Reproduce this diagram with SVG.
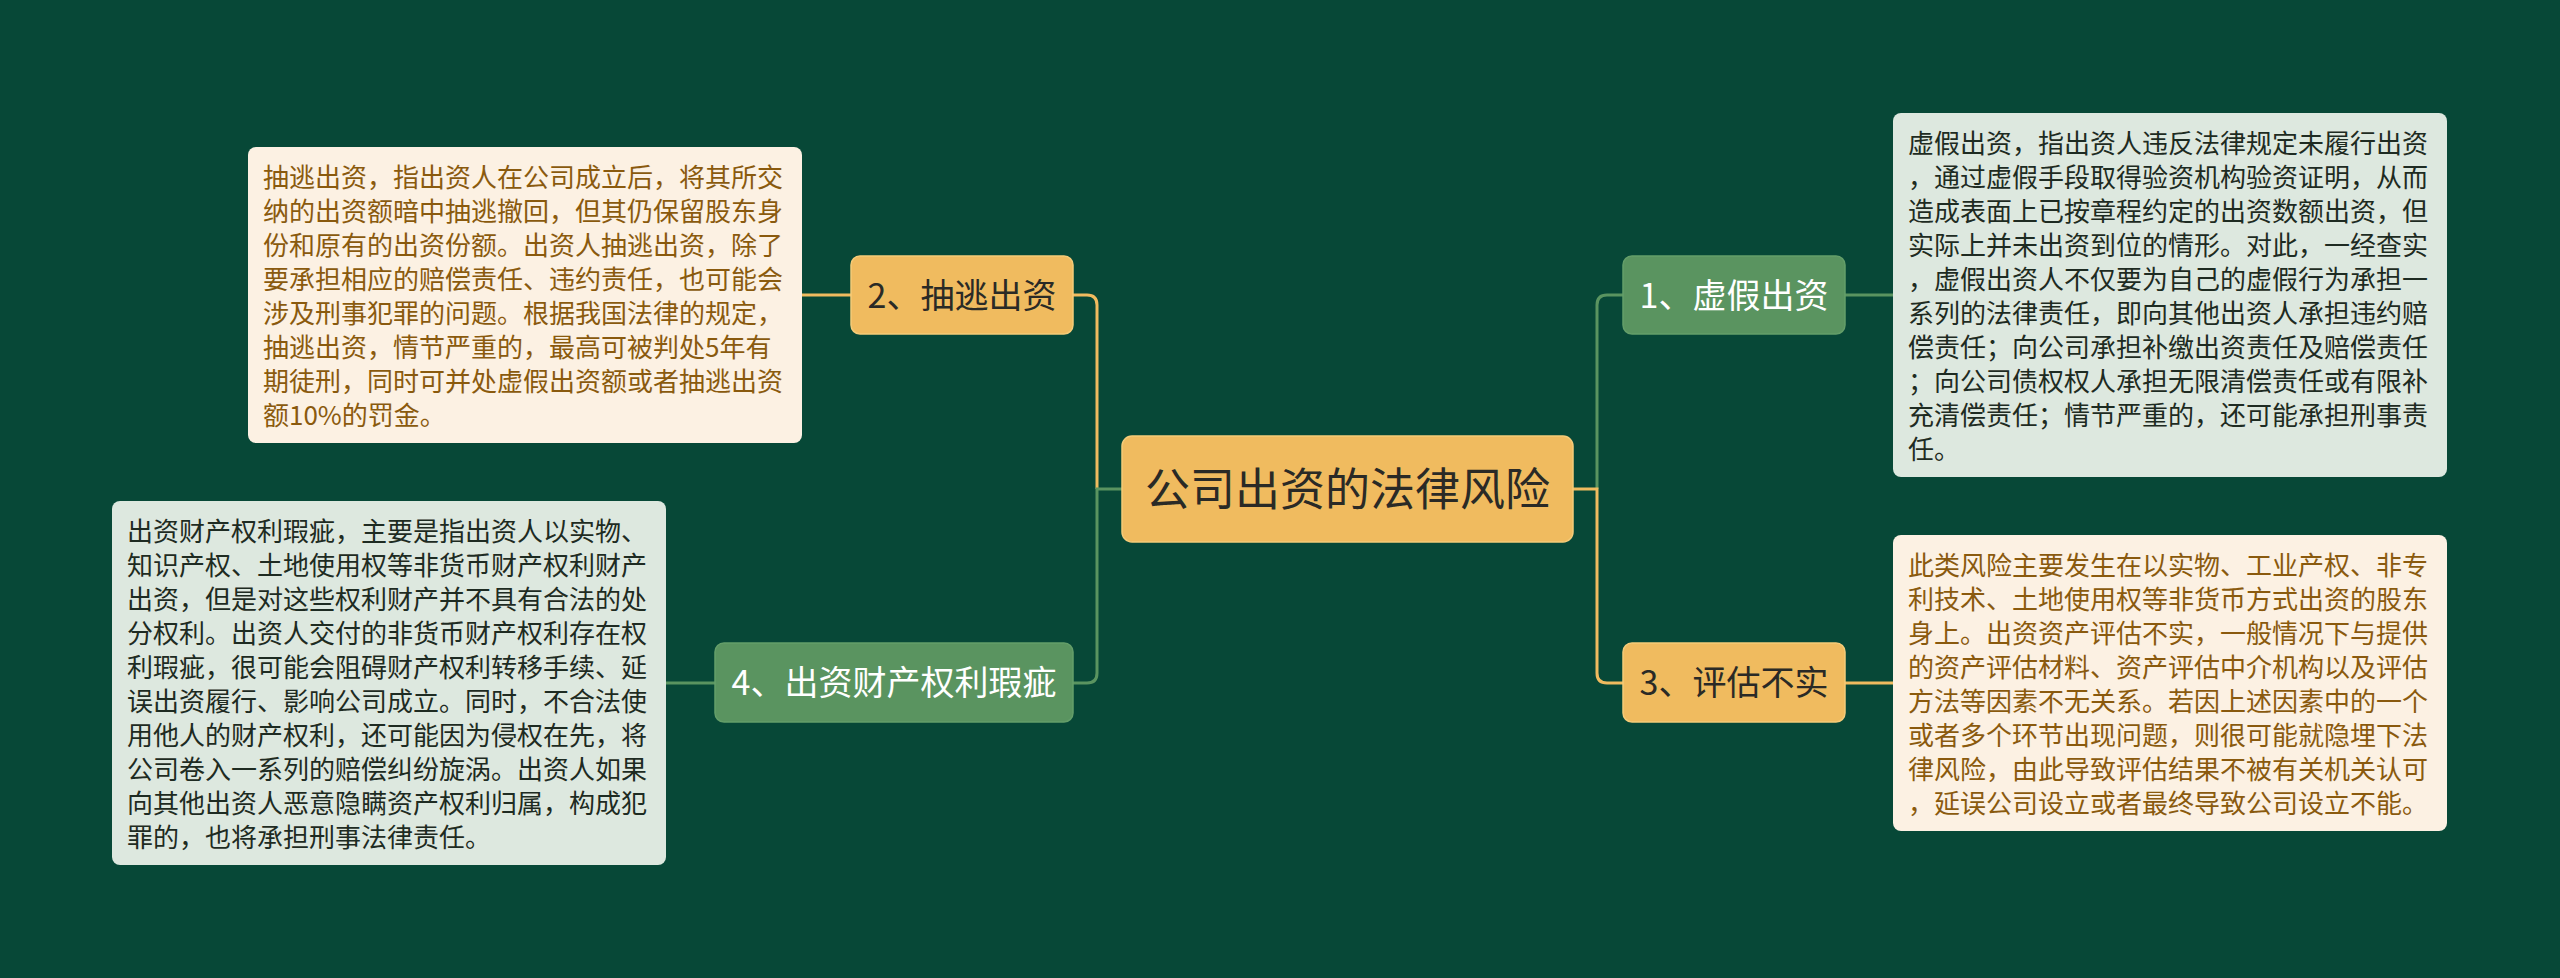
<svg xmlns="http://www.w3.org/2000/svg" width="2560" height="978" viewBox="0 0 2560 978">
<defs>
<style>
.bg{fill:#074837}
.ny{fill:#F0BB5F;stroke:#F5CB78;stroke-width:1.5}
.ng{fill:#5A9460;stroke:#649E69;stroke-width:1.5}
.ty{font-family:"Noto Sans CJK SC","Noto Sans",sans-serif;fill:#2A2A26;text-anchor:middle}
.tg{font-family:"Noto Sans CJK SC","Noto Sans",sans-serif;fill:#FFFFFF;text-anchor:middle}
.by{fill:#FCF1E3}
.bg2{fill:#DDE8DF}
.dy{font-family:"Noto Sans CJK SC","Noto Sans",sans-serif;font-size:26px;fill:#8A5A0E}
.dg{font-family:"Noto Sans CJK SC","Noto Sans",sans-serif;font-size:26px;fill:#1E2B22}
.cy{fill:none;stroke:#F0BB5F;stroke-width:3}
.cg{fill:none;stroke:#5A9460;stroke-width:3}
</style>
</defs>
<rect class="bg" x="0" y="0" width="2560" height="978"/>
<g id="connectors">
<path class="cy" d="M1097,489 V305 Q1097,295 1087,295 H1073"/>
<path class="cg" d="M1122,489 H1097 V673 Q1097,683 1087,683 H1073"/>
<path class="cg" d="M1597,489 V305 Q1597,295 1607,295 H1623"/>
<path class="cy" d="M1573,489 H1597 V673 Q1597,683 1607,683 H1623"/>
<path class="cy" d="M851,295 H802"/>
<path class="cg" d="M715,683 H666"/>
<path class="cg" d="M1845,295 H1893"/>
<path class="cy" d="M1845,683 H1893"/>
</g>
<g id="root">
<rect class="ny" x="1122" y="436" width="451" height="106" rx="10"/>
<text class="ty" x="1347.5" y="506" font-size="45">公司出资的法律风险</text>
</g>
<g id="node1">
<rect class="ng" x="1623" y="256" width="222" height="78" rx="9"/>
<text class="tg" x="1734" y="308" font-size="34">1、虚假出资</text>
</g>
<g id="node2">
<rect class="ny" x="851" y="256" width="222" height="78" rx="9"/>
<text class="ty" x="962" y="308" font-size="34">2、抽逃出资</text>
</g>
<g id="node3">
<rect class="ny" x="1623" y="643" width="222" height="79" rx="9"/>
<text class="ty" x="1734" y="695" font-size="34">3、评估不实</text>
</g>
<g id="node4">
<rect class="ng" x="715" y="643" width="358" height="79" rx="9"/>
<text class="tg" x="894" y="695" font-size="34">4、出资财产权利瑕疵</text>
</g>
<g id="detail2">
<rect class="by" x="248" y="147" width="554" height="296" rx="8"/>
<text class="dy" x="263" y="187">
<tspan x="263" y="187">抽逃出资，指出资人在公司成立后，将其所交</tspan>
<tspan x="263" y="221">纳的出资额暗中抽逃撤回，但其仍保留股东身</tspan>
<tspan x="263" y="255">份和原有的出资份额。出资人抽逃出资，除了</tspan>
<tspan x="263" y="289">要承担相应的赔偿责任、违约责任，也可能会</tspan>
<tspan x="263" y="323">涉及刑事犯罪的问题。根据我国法律的规定，</tspan>
<tspan x="263" y="357">抽逃出资，情节严重的，最高可被判处5年有</tspan>
<tspan x="263" y="391">期徒刑，同时可并处虚假出资额或者抽逃出资</tspan>
<tspan x="263" y="425">额10%的罚金。</tspan>
</text>
</g>
<g id="detail4">
<rect class="bg2" x="112" y="501" width="554" height="364" rx="8"/>
<text class="dg" x="127" y="541">
<tspan x="127" y="541">出资财产权利瑕疵，主要是指出资人以实物、</tspan>
<tspan x="127" y="575">知识产权、土地使用权等非货币财产权利财产</tspan>
<tspan x="127" y="609">出资，但是对这些权利财产并不具有合法的处</tspan>
<tspan x="127" y="643">分权利。出资人交付的非货币财产权利存在权</tspan>
<tspan x="127" y="677">利瑕疵，很可能会阻碍财产权利转移手续、延</tspan>
<tspan x="127" y="711">误出资履行、影响公司成立。同时，不合法使</tspan>
<tspan x="127" y="745">用他人的财产权利，还可能因为侵权在先，将</tspan>
<tspan x="127" y="779">公司卷入一系列的赔偿纠纷旋涡。出资人如果</tspan>
<tspan x="127" y="813">向其他出资人恶意隐瞒资产权利归属，构成犯</tspan>
<tspan x="127" y="847">罪的，也将承担刑事法律责任。</tspan>
</text>
</g>
<g id="detail1">
<rect class="bg2" x="1893" y="113" width="554" height="364" rx="8"/>
<text class="dg" x="1908" y="153">
<tspan x="1908" y="153">虚假出资，指出资人违反法律规定未履行出资</tspan>
<tspan x="1908" y="187">，通过虚假手段取得验资机构验资证明，从而</tspan>
<tspan x="1908" y="221">造成表面上已按章程约定的出资数额出资，但</tspan>
<tspan x="1908" y="255">实际上并未出资到位的情形。对此，一经查实</tspan>
<tspan x="1908" y="289">，虚假出资人不仅要为自己的虚假行为承担一</tspan>
<tspan x="1908" y="323">系列的法律责任，即向其他出资人承担违约赔</tspan>
<tspan x="1908" y="357">偿责任；向公司承担补缴出资责任及赔偿责任</tspan>
<tspan x="1908" y="391">；向公司债权权人承担无限清偿责任或有限补</tspan>
<tspan x="1908" y="425">充清偿责任；情节严重的，还可能承担刑事责</tspan>
<tspan x="1908" y="459">任。</tspan>
</text>
</g>
<g id="detail3">
<rect class="by" x="1893" y="535" width="554" height="296" rx="8"/>
<text class="dy" x="1908" y="575">
<tspan x="1908" y="575">此类风险主要发生在以实物、工业产权、非专</tspan>
<tspan x="1908" y="609">利技术、土地使用权等非货币方式出资的股东</tspan>
<tspan x="1908" y="643">身上。出资资产评估不实，一般情况下与提供</tspan>
<tspan x="1908" y="677">的资产评估材料、资产评估中介机构以及评估</tspan>
<tspan x="1908" y="711">方法等因素不无关系。若因上述因素中的一个</tspan>
<tspan x="1908" y="745">或者多个环节出现问题，则很可能就隐埋下法</tspan>
<tspan x="1908" y="779">律风险，由此导致评估结果不被有关机关认可</tspan>
<tspan x="1908" y="813">，延误公司设立或者最终导致公司设立不能。</tspan>
</text>
</g>
</svg>
